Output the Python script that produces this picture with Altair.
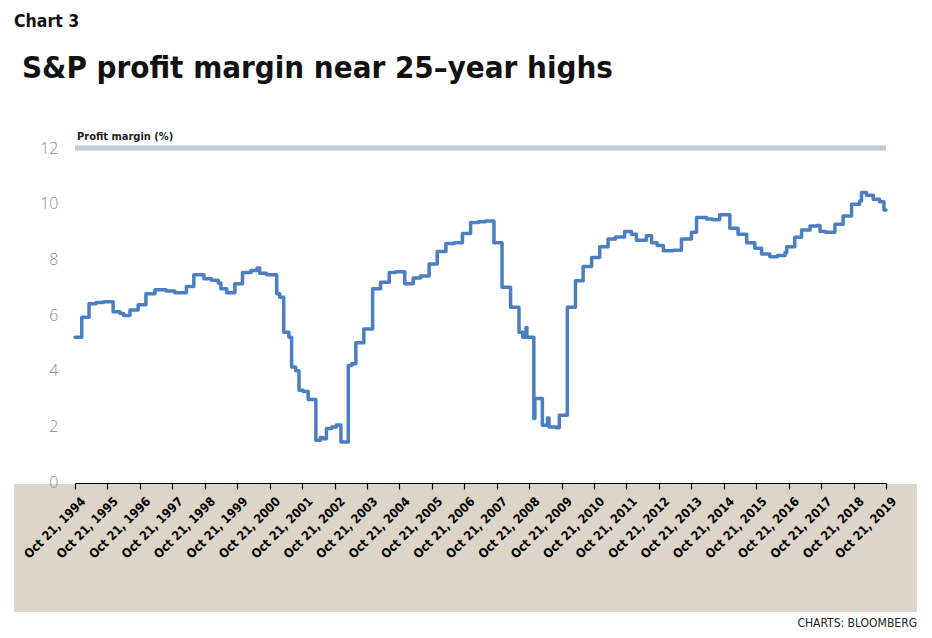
import altair as alt
import pandas as pd

dates = [
    "1994-10-21", "1995-01-05", "1995-03-28", "1995-06-15", "1995-09-10", "1995-12-24",
    "1996-03-10", "1996-04-20", "1996-07-01", "1996-10-01", "1996-12-28", "1997-04-08",
    "1997-08-10", "1997-11-18", "1998-03-28", "1998-06-20", "1998-10-12", "1999-01-05",
    "1999-03-22", "1999-04-20", "1999-06-25", "1999-09-25", "1999-12-20", "2000-03-25",
    "2000-06-01", "2000-07-01", "2000-09-15", "2001-01-08", "2001-02-10", "2001-03-28",
    "2001-05-25", "2001-06-25", "2001-08-10", "2001-09-16", "2001-11-01", "2001-12-28",
    "2002-03-25", "2002-05-15", "2002-06-12", "2002-07-22", "2002-09-20", "2002-11-10",
    "2003-01-01", "2003-03-25", "2003-05-01", "2003-06-18", "2003-09-16", "2003-12-24",
    "2004-03-22", "2004-06-28", "2004-09-10", "2004-12-20", "2005-03-25", "2005-06-15",
    "2005-09-20", "2005-12-20", "2006-03-28", "2006-07-01", "2006-09-30", "2006-12-31",
    "2007-04-01", "2007-06-15", "2007-09-20", "2007-12-20", "2008-03-25", "2008-06-28",
    "2008-08-10", "2008-09-15", "2008-09-25", "2008-12-12", "2008-12-24", "2009-03-18",
    "2009-05-15", "2009-06-01", "2009-08-20", "2009-09-25", "2009-12-24", "2010-03-26",
    "2010-06-20", "2010-09-24", "2010-12-24", "2011-03-28", "2011-06-20", "2011-09-30",
    "2011-12-15", "2012-02-10", "2012-06-01", "2012-07-30", "2012-10-01", "2012-12-10",
    "2013-04-01", "2013-07-01", "2013-10-22", "2013-12-18", "2014-04-10", "2014-06-15",
    "2014-09-05", "2014-12-28", "2015-03-30", "2015-07-05", "2015-10-05", "2015-12-20",
    "2016-03-22", "2016-06-15", "2016-09-10", "2016-09-28", "2016-12-28", "2017-03-15",
    "2017-06-18", "2017-09-01", "2017-10-08", "2017-12-10", "2018-03-25", "2018-06-25",
    "2018-09-28", "2018-12-28", "2019-01-18", "2019-03-15", "2019-05-30", "2019-08-10",
    "2019-09-28", "2019-10-21",
]
margin = [
    5.20, 5.92, 6.40, 6.45, 6.48, 6.12,
    6.05, 5.98, 6.18, 6.37, 6.76, 6.91,
    6.86, 6.80, 7.02, 7.45, 7.30, 7.25,
    7.15, 6.94, 6.80, 7.12, 7.53, 7.60,
    7.69, 7.50, 7.45, 6.76, 6.64, 5.38,
    5.20, 4.13, 4.00, 3.30, 3.25, 2.96,
    1.50, 1.60, 1.55, 1.92, 1.98, 2.05,
    1.44, 4.19, 4.25, 5.00, 5.50, 6.94,
    7.18, 7.53, 7.55, 7.12, 7.33, 7.40,
    7.83, 8.28, 8.57, 8.60, 8.93, 9.32,
    9.35, 9.38, 8.60, 7.00, 6.28, 5.38,
    5.20, 5.55, 5.20, 2.28, 3.00, 2.04,
    2.30, 1.98, 1.95, 2.40, 6.28, 7.23,
    7.74, 8.07, 8.45, 8.73, 8.80, 9.00,
    8.90, 8.69, 8.85, 8.60, 8.50, 8.31,
    8.33, 8.73, 8.97, 9.50, 9.45, 9.42,
    9.60, 9.12, 8.90, 8.60, 8.40, 8.19,
    8.09, 8.14, 8.25, 8.45, 8.79, 9.05,
    9.20, 9.22, 9.00, 8.97, 9.26, 9.56,
    9.98, 10.10, 10.40, 10.30, 10.16, 10.07,
    9.77, 9.77,
]
tick_years = list(range(1994, 2020))
y_ticks = [0, 2, 4, 6, 8, 10, 12]

title_text = "S&P profit margin near 25\u2013year highs"
kicker_text = "Chart 3"
unit_text = "Profit margin (%)"
source_text = "CHARTS: BLOOMBERG"

df = pd.DataFrame({"date": dates, "margin": margin})

COND = "DejaVu Sans Condensed, Roboto, sans-serif"

W, H = 811, 334

x_enc = alt.X(
    "date:T",
    scale=alt.Scale(
        type="utc",
        domain=[alt.DateTime(year=1994, month=10, date=21, utc=True),
                alt.DateTime(year=2019, month=10, date=21, utc=True)],
    ),
    axis=alt.Axis(
        values=[alt.DateTime(year=y, month=10, date=21, utc=True) for y in tick_years],
        labelExpr="utcFormat(datum.value, '%b %d, %Y')",
        labelAngle=-45,
        labelAlign="right",
        labelBaseline="middle",
        labelFont=COND,
        labelFontWeight="bold",
        labelFontSize=12.5,
        labelColor="#000000",
        labelOffset=8,
        labelPadding=10,
        labelOverlap=False,
        labelBound=False,
        labelFlush=False,
        domainColor="#000000",
        domainWidth=1.2,
        tickColor="#000000",
        tickWidth=1.2,
        tickSize=6,
        grid=False,
        title=None,
        offset=1,
        zindex=2,
    ),
)

y_enc = alt.Y(
    "margin:Q",
    scale=alt.Scale(domain=[0, 12], nice=False, zero=True),
    axis=alt.Axis(
        values=y_ticks,
        labelFont="Open Sans, sans-serif",
        labelFontSize=16,
        labelFontWeight=300,
        labelColor="#8c8c8c",
        labelPadding=17,
        ticks=False,
        domain=False,
        grid=False,
        title=None,
        zindex=2,
    ),
)

one = pd.DataFrame({"k": [0]})

band = alt.Chart(one).mark_rect(color="#ddd6c8").encode(
    x=alt.value(-61), x2=alt.value(842), y=alt.value(336), y2=alt.value(464)
)

top_rule = alt.Chart(pd.DataFrame({"v": [12]})).mark_rule(
    color="#bccbd4", strokeWidth=5
).encode(y=alt.Y("v:Q", scale=alt.Scale(domain=[0, 12], nice=False)))

line = alt.Chart(df).mark_line(
    interpolate="step-after", color="#4a7fc2", strokeWidth=3.5, strokeJoin="round", strokeCap="round"
).encode(x=x_enc, y=y_enc)

def label(text, x, y, size, weight="normal", align="left", color="#111111", font=COND):
    return alt.Chart(one).mark_text(
        text=text, align=align, baseline="alphabetic", fontSize=size, fontWeight=weight,
        font=font, color=color,
    ).encode(x=alt.value(x), y=alt.value(y))

kicker = label(kicker_text, -61, -121, 17.5, "bold", font=COND)
title = label(title_text, -53, -70, 31, "bold", font=COND)
unit = label(unit_text, 2, -8, 11, "bold", font=COND, color="#222222")
source = label(source_text, 842, 479, 12, "normal", align="right", font=COND, color="#222222")

chart = alt.layer(band, top_rule, line, kicker, title, unit, source).properties(
    width=W, height=H,
    padding={"left": 67, "top": 140, "right": 38, "bottom": 148},
    autosize=alt.AutoSizeParams(type="none"),
).configure(background="#ffffff", view=alt.ViewConfig(stroke=None))

chart.save("out.html", embed_options={"renderer": "svg", "actions": False})
